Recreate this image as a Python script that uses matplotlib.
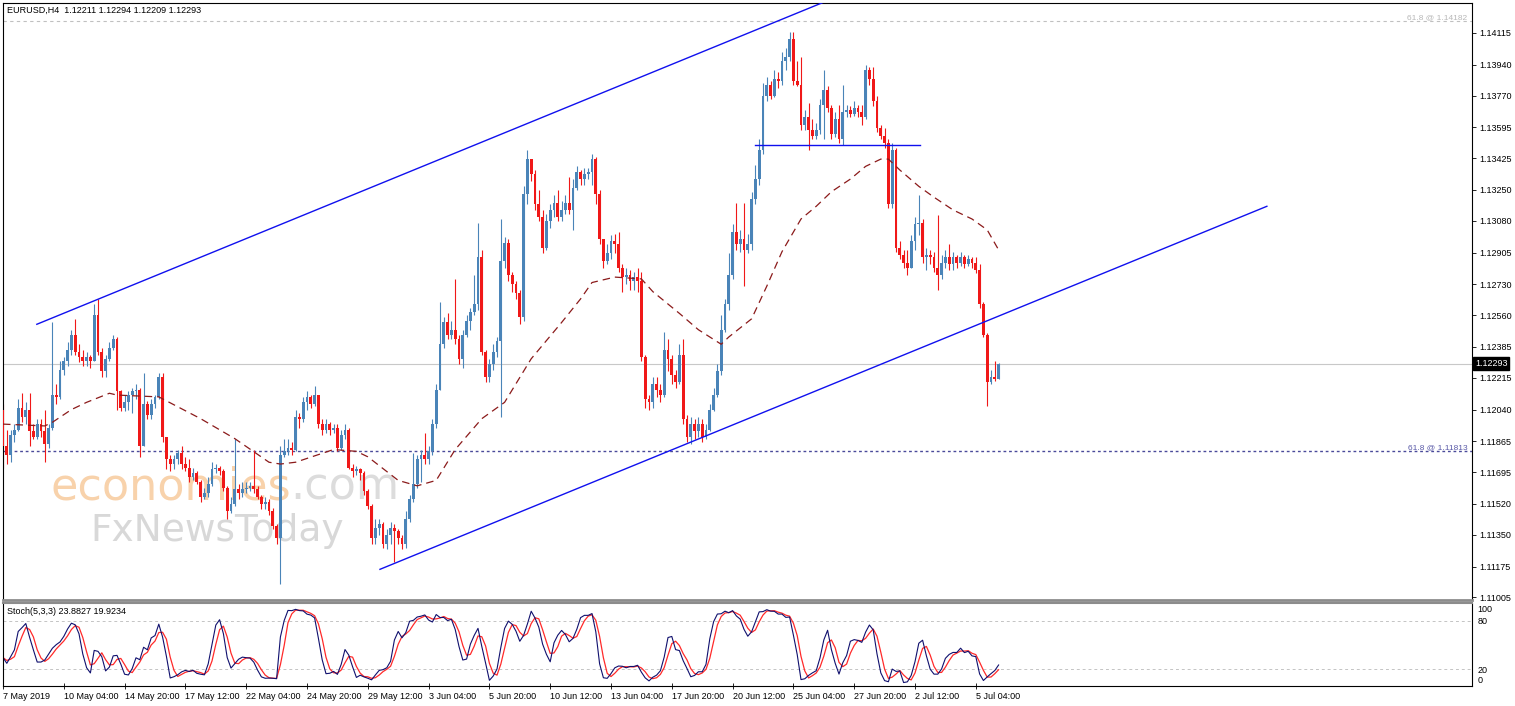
import numpy as np
import pandas as pd
import matplotlib
matplotlib.use('agg')
import matplotlib.pyplot as plt
import matplotlib.transforms as mtrans

# EURUSD H4, values (open of each bar = previous close)
first_open = 1.1204
closes = [
    1.1184, 1.1179, 1.1190, 1.1193, 1.1205, 1.1200, 1.1204, 1.1192, 1.1189, 1.1196,
    1.1192, 1.1185, 1.1194, 1.1212, 1.1211, 1.1226, 1.1231, 1.1237, 1.1245, 1.1236,
    1.1233, 1.1231, 1.1233, 1.1231, 1.1256, 1.1236, 1.1225, 1.1232, 1.1238, 1.1243,
    1.1214, 1.1205, 1.1208, 1.1212, 1.1214, 1.1215, 1.1184, 1.1207, 1.1201, 1.1207,
    1.1211, 1.1222, 1.1189, 1.1177, 1.1174, 1.1177, 1.1180, 1.1174, 1.1172, 1.1167,
    1.1169, 1.1164, 1.1156, 1.1158, 1.1163, 1.1171, 1.1172, 1.1170, 1.1161, 1.1148,
    1.1152, 1.1160, 1.1158, 1.1160, 1.1161, 1.1162, 1.1160, 1.1156, 1.1152, 1.1153,
    1.1148, 1.1140, 1.1133, 1.1179, 1.1181, 1.1183, 1.1182, 1.1200, 1.1199, 1.1208,
    1.1211, 1.1207, 1.1212, 1.1196, 1.1193, 1.1196, 1.1193, 1.1194, 1.1183, 1.1190,
    1.1193, 1.1172, 1.1170, 1.1171, 1.1169, 1.1159, 1.1151, 1.1133, 1.1139, 1.1141,
    1.1130, 1.1135, 1.1139, 1.1137, 1.1133, 1.1130, 1.1144, 1.1155, 1.1163, 1.1177,
    1.1179, 1.1177, 1.1181, 1.1196, 1.1215, 1.1240, 1.1252, 1.1245, 1.1248, 1.1243,
    1.1232, 1.1245, 1.1253, 1.1258, 1.1262, 1.1288, 1.1236, 1.1222, 1.1229, 1.1236,
    1.1242, 1.1286, 1.1296, 1.1278, 1.1273, 1.1268, 1.1255, 1.1323, 1.1342, 1.1334,
    1.1317, 1.1310, 1.1293, 1.1308, 1.1314, 1.1318, 1.1310, 1.1314, 1.1318, 1.1314,
    1.1326, 1.1335, 1.1331, 1.1334, 1.1335, 1.1342, 1.1323, 1.1298, 1.1286, 1.1290,
    1.1297, 1.1295, 1.1282, 1.1277, 1.1278, 1.1275, 1.1277, 1.1275, 1.1233, 1.1210,
    1.1208, 1.1218, 1.1215, 1.1212, 1.1237, 1.1232, 1.1223, 1.1219, 1.1234, 1.1199,
    1.1189, 1.1196, 1.1192, 1.1196, 1.1189, 1.1193, 1.1204, 1.1212, 1.1225, 1.1248,
    1.1262, 1.1278, 1.1302, 1.1295, 1.1298, 1.1292, 1.1295, 1.1320, 1.1331, 1.1347,
    1.1377, 1.1383, 1.1377, 1.1386, 1.1385, 1.1396, 1.1398, 1.1408, 1.1385, 1.1383,
    1.1361, 1.1365, 1.1358, 1.1355, 1.1358, 1.1372, 1.1380, 1.1370, 1.1356, 1.1364,
    1.1353, 1.1368, 1.1369, 1.1367, 1.1370, 1.1368, 1.1365, 1.1391, 1.1386, 1.1374,
    1.1359, 1.1355, 1.1351, 1.1317, 1.1347, 1.1293, 1.1289, 1.1285, 1.1282, 1.1297,
    1.1306, 1.1307, 1.1288, 1.1289, 1.1288, 1.1282, 1.1278, 1.1285, 1.1288, 1.1284,
    1.1288, 1.1285, 1.1288, 1.1284, 1.1287, 1.1285, 1.1281, 1.1262, 1.1245, 1.1219,
    1.1222, 1.12211, 1.12293,
]
highs = [
    1.1207, 1.1193, 1.1193, 1.1196, 1.1210, 1.1213, 1.1208, 1.1213, 1.1196, 1.1199,
    1.1199, 1.1204, 1.1196, 1.1252, 1.1218, 1.1231, 1.1233, 1.1241, 1.1248, 1.1254,
    1.1240, 1.1237, 1.1236, 1.1234, 1.1262, 1.1265, 1.1238, 1.1234, 1.1241, 1.1245,
    1.1244, 1.1215, 1.1212, 1.1214, 1.1216, 1.1218, 1.1216, 1.1224, 1.1209, 1.1210,
    1.1212, 1.1224, 1.1224, 1.1189, 1.1179, 1.1179, 1.1182, 1.1184, 1.1178, 1.1177,
    1.1172, 1.1170, 1.1165, 1.1161, 1.1167, 1.1175, 1.1174, 1.1173, 1.1171, 1.1162,
    1.1156, 1.1188, 1.1163, 1.1164, 1.1164, 1.1164, 1.1182, 1.1162, 1.1157, 1.1156,
    1.1155, 1.1150, 1.1141, 1.1184, 1.1188, 1.1188, 1.1186, 1.1204, 1.1202, 1.1211,
    1.1214, 1.1212, 1.1217, 1.1212, 1.1199, 1.1199, 1.1197, 1.1196, 1.1196, 1.1193,
    1.1196, 1.1194, 1.1174, 1.1173, 1.1172, 1.1170, 1.1160, 1.1152, 1.1144, 1.1144,
    1.1142, 1.1138, 1.1142, 1.1141, 1.1138, 1.1135, 1.1148, 1.1157, 1.1180, 1.1179,
    1.1182, 1.1191, 1.1184, 1.1199, 1.1218, 1.1263, 1.1255, 1.1257, 1.1253, 1.1276,
    1.1245, 1.1248, 1.1256, 1.1260, 1.1278, 1.1307, 1.1292, 1.1237, 1.1232, 1.1240,
    1.1244, 1.1309, 1.1299, 1.1298, 1.1280, 1.1275, 1.1270, 1.1327, 1.1347, 1.1342,
    1.1336, 1.1325, 1.1314, 1.1312, 1.1317, 1.1322, 1.1325, 1.1319, 1.1322, 1.1332,
    1.1331, 1.1338, 1.1336, 1.1337, 1.1337, 1.1345, 1.1343, 1.1325, 1.1298, 1.1295,
    1.1300, 1.1301, 1.1302, 1.1284, 1.1282, 1.1281, 1.1280, 1.1282, 1.1280, 1.1234,
    1.1212, 1.1222, 1.1222, 1.1218, 1.1247, 1.1243, 1.1234, 1.1226, 1.1240, 1.1243,
    1.1201, 1.1200, 1.1199, 1.1200, 1.1199, 1.1196, 1.1207, 1.1216, 1.1229, 1.1256,
    1.1265, 1.1290, 1.1306, 1.1318, 1.1303, 1.1318, 1.1301, 1.1324, 1.1339, 1.1353,
    1.1384, 1.1387, 1.1385, 1.1391, 1.1390, 1.1401, 1.1403, 1.1412, 1.1412, 1.1396,
    1.1398, 1.1369, 1.1373, 1.1364, 1.1362, 1.1375, 1.1391, 1.1382, 1.1372, 1.1368,
    1.1372, 1.1383, 1.1372, 1.1371, 1.1374, 1.1372, 1.1372, 1.1394, 1.1393, 1.1393,
    1.1377, 1.1361, 1.1359, 1.1353, 1.1351, 1.1348, 1.1297, 1.1292, 1.1292, 1.1300,
    1.1310, 1.1322, 1.1309, 1.1293, 1.1292, 1.1291, 1.1311, 1.1289, 1.1292, 1.1295,
    1.1291, 1.1289, 1.1291, 1.1289, 1.1289, 1.1288, 1.1288, 1.1284, 1.1263, 1.1246,
    1.1226, 1.1231, 1.12294,
]
lows = [
    1.1172, 1.1174, 1.1175, 1.1186, 1.1192, 1.1197, 1.1196, 1.1184, 1.1188, 1.1188,
    1.1189, 1.1175, 1.1183, 1.1193, 1.1207, 1.1210, 1.1223, 1.1228, 1.1234, 1.1234,
    1.1230, 1.1228, 1.1228, 1.1227, 1.1231, 1.1234, 1.1222, 1.1222, 1.1231, 1.1237,
    1.1204, 1.1203, 1.1203, 1.1204, 1.1202, 1.1210, 1.1178, 1.1184, 1.1199, 1.1199,
    1.1205, 1.1210, 1.1186, 1.1171, 1.1170, 1.1171, 1.1174, 1.1171, 1.1170, 1.1164,
    1.1165, 1.1163, 1.1153, 1.1155, 1.1156, 1.1162, 1.1169, 1.1168, 1.1159, 1.1144,
    1.1147, 1.1151, 1.1155, 1.1156, 1.1158, 1.1159, 1.1158, 1.1155, 1.1149, 1.1149,
    1.1146, 1.1138, 1.1130, 1.1108, 1.1178, 1.1179, 1.1179, 1.1181, 1.1194, 1.1197,
    1.1204, 1.1205, 1.1206, 1.1194, 1.1190, 1.1191, 1.1190, 1.1191, 1.1181, 1.1182,
    1.1188, 1.1171, 1.1167, 1.1168, 1.1165, 1.1157, 1.1149, 1.1130, 1.1130, 1.1135,
    1.1128, 1.1127, 1.1130, 1.1120, 1.1130, 1.1127, 1.1128, 1.1142, 1.1153, 1.1161,
    1.1164, 1.1174, 1.1174, 1.1179, 1.1194, 1.1215, 1.1238, 1.1243, 1.1243, 1.1240,
    1.1229, 1.1227, 1.1244, 1.1248, 1.1256, 1.1259, 1.1234, 1.1219, 1.1219, 1.1226,
    1.1233, 1.1200, 1.1282, 1.1275, 1.1269, 1.1265, 1.1251, 1.1253, 1.1317, 1.1330,
    1.1314, 1.1308, 1.1290, 1.1292, 1.1304, 1.1310, 1.1308, 1.1308, 1.1312, 1.1312,
    1.1303, 1.1325, 1.1328, 1.1328, 1.1331, 1.1328, 1.1317, 1.1295, 1.1282, 1.1284,
    1.1287, 1.1290, 1.1280, 1.1269, 1.1273, 1.1270, 1.1270, 1.1269, 1.1231, 1.1205,
    1.1204, 1.1205, 1.1211, 1.1208, 1.1211, 1.1225, 1.1218, 1.1216, 1.1218, 1.1196,
    1.1186, 1.1185, 1.1188, 1.1189, 1.1186, 1.1188, 1.1192, 1.1203, 1.1211, 1.1223,
    1.1247, 1.1259, 1.1276, 1.1292, 1.1291, 1.1272, 1.1290, 1.1292, 1.1317, 1.1328,
    1.1345, 1.1374, 1.1375, 1.1376, 1.1381, 1.1383, 1.1391, 1.1396, 1.1383, 1.1382,
    1.1358, 1.1358, 1.1347, 1.1353, 1.1353, 1.1356, 1.1353, 1.1368, 1.1353, 1.1354,
    1.1351, 1.1350, 1.1365, 1.1365, 1.1366, 1.1365, 1.1361, 1.1364, 1.1383, 1.1371,
    1.1357, 1.1353, 1.1348, 1.1315, 1.1315, 1.1291, 1.1287, 1.1282, 1.1278, 1.1282,
    1.1292, 1.1300, 1.1285, 1.1281, 1.1284, 1.1280, 1.1270, 1.1276, 1.1282, 1.1281,
    1.1281, 1.1282, 1.1283, 1.1282, 1.1283, 1.1282, 1.1279, 1.1260, 1.1244, 1.1206,
    1.1218, 1.1220, 1.12209,
]

# moving average (dashed) read at some bars
ma_bars = [0, 11, 13, 18, 22, 28, 30, 41, 52, 61, 70, 73, 77, 87, 93, 96, 104, 109, 114, 119,
           126, 132, 139, 147, 152, 155, 161, 168, 171, 178, 183, 189, 191, 197, 201, 205, 210,
           214, 218, 223, 227, 231, 233, 236, 241, 245, 250, 255, 259, 262]
ma_vals = [1.1196, 1.1195, 1.1197, 1.1204, 1.1208, 1.1213, 1.1212, 1.1211, 1.1199, 1.1188,
           1.1175, 1.1174, 1.1175, 1.1182, 1.1181, 1.1178, 1.1165, 1.1162, 1.1165, 1.1182,
           1.1199, 1.1208, 1.1232, 1.1252, 1.1265, 1.1274, 1.1277, 1.1276, 1.1269, 1.1257,
           1.1248, 1.1240, 1.1244, 1.1254, 1.1272, 1.1291, 1.1309, 1.1316, 1.1324, 1.1331,
           1.1338, 1.1342, 1.1342, 1.1336, 1.1327, 1.1321, 1.1314, 1.1309, 1.1303, 1.1292]

# drawn objects (bar index, price)
upper_channel = [(8.9, 1.1251), (220, 1.14319)]
lower_channel = [(99.2, 1.1116), (332.6, 1.1316)]
neckline = [(197.9, 1.1350), (241.3, 1.1350)]
fib_low = 1.11813
fib_high = 1.14182
last_price = 1.12293

price_ticks = [1.14115, 1.13940, 1.13770, 1.13595, 1.13425, 1.13250, 1.13080, 1.12905,
               1.12730, 1.12560, 1.12385, 1.12215, 1.12040, 1.11865, 1.11695, 1.11520,
               1.11350, 1.11175, 1.11005]
date_labels = ['7 May 2019', '10 May 04:00', '14 May 20:00', '17 May 12:00', '22 May 04:00',
               '24 May 20:00', '29 May 12:00', '3 Jun 04:00', '5 Jun 20:00', '10 Jun 12:00',
               '13 Jun 04:00', '17 Jun 20:00', '20 Jun 12:00', '25 Jun 04:00', '27 Jun 20:00',
               '2 Jul 12:00', '5 Jul 04:00']
date_bars = [16 * k for k in range(len(date_labels))]

BULL = '#4a84b8'
BEAR = '#f01818'
FS = 6.5
plt.rcParams['font.family'] = ['Liberation Sans', 'DejaVu Sans']

W, H = 1515, 706
def box(l, t, r, b):
    return [l / W, 1 - b / H, (r - l) / W, (b - t) / H]

fig = plt.figure(figsize=(W / 100, H / 100), dpi=100)
ax = fig.add_axes(box(3, 3, 1472, 600))
ax2 = fig.add_axes(box(3, 603, 1472, 686))

o = np.array([first_open] + closes[:-1])
c = np.array(closes)
hi = np.array(highs)
lo = np.array(lows)
x = np.arange(len(c))
cols = np.where(c >= o, BULL, BEAR)

xmax = 1469 / 3.8
ax.set_xlim(0, xmax)
ax.set_ylim(1.10991, 1.14280)

# watermark
wm = ax.text(0.032, 0.153, 'economies', transform=ax.transAxes, fontsize=32,
             color='#f8d2ab', zorder=0.5, va='bottom', family='DejaVu Sans')
ax.annotate('.com', xy=(1, 0), xycoords=wm, fontsize=32, color='#dcdcdc',
            zorder=0.5, va='bottom', ha='left', family='DejaVu Sans')
ax.text(0.0592, 0.0988, 'FxNewsToday', transform=ax.transAxes, fontsize=27,
        color='#d8d8d8', zorder=0.5, va='baseline', family='DejaVu Sans')

# reference lines
yblend = mtrans.blended_transform_factory(ax.transAxes, ax.transData)
ax.axhline(last_price, color='#c8c8c8', lw=0.8, zorder=1)
ax.axhline(fib_high, color='#c0c0c0', lw=0.8, ls=(0, (3, 3)), zorder=1)
ax.axhline(fib_low, color='#4a4a9a', lw=1.0, ls=(0, (2, 2)), zorder=1)
ax.text(0.997, fib_high, '61.8 @ 1.14182', transform=yblend,
        ha='right', va='bottom', fontsize=6, color='#b8b8b8')
ax.text(0.997, fib_low, '61.8 @ 1.11813', transform=yblend,
        ha='right', va='bottom', fontsize=6, color='#5a5aa8')

# candles
ax.vlines(x, lo, hi, colors=cols, lw=0.8, zorder=2)
body = np.maximum(np.abs(c - o), 0.00003)
ax.bar(x, body, bottom=np.minimum(o, c), width=0.72, color=cols, linewidth=0, zorder=3)

# moving average
ax.plot(ma_bars, ma_vals, color='#8b1a1a', lw=0.9, ls=(0, (6, 4)), zorder=4)

# trend lines
for line in (upper_channel, lower_channel, neckline):
    ax.plot([p[0] for p in line], [p[1] for p in line], color='#1010ee', lw=1.0, zorder=5)

ax.set_xticks([])
ax.yaxis.tick_right()
ax.set_yticks(price_ticks)
ax.set_yticklabels(['%.5f' % v for v in price_ticks])
ax.tick_params(axis='y', direction='out', length=3, width=0.6, labelsize=FS, pad=2)
for s in ('top', 'left', 'right'):
    ax.spines[s].set_color('black')
    ax.spines[s].set_linewidth(0.8)
ax.spines['bottom'].set_color('#8c8c8c')
ax.spines['bottom'].set_linewidth(2.0)

ax.text(1.002, last_price, '%.5f' % last_price, transform=yblend,
        ha='left', va='center', fontsize=FS, color='white', zorder=10, clip_on=False,
        bbox=dict(boxstyle='square,pad=0.2', fc='black', ec='black'))

# stochastic 5,3,3
df = pd.DataFrame({'h': hi, 'l': lo, 'c': c})
ll = df['l'].rolling(5, min_periods=1).min()
hh = df['h'].rolling(5, min_periods=1).max()
k = 100 * (df['c'] - ll).rolling(3, min_periods=1).sum() / (hh - ll).rolling(3, min_periods=1).sum()
d = k.rolling(3, min_periods=1).mean()

ax2.set_xlim(0, xmax)
ax2.set_ylim(-1, 102)
for lvl in (20, 80):
    ax2.axhline(lvl, color='#c4c4c4', lw=0.7, ls=(0, (3, 3)))
ax2.plot(x, d, color='#ff2a2a', lw=0.9)
ax2.plot(x, k, color='#10106e', lw=0.8)

ax2.yaxis.tick_right()
ax2.set_yticks([0, 20, 80, 100])
ax2.set_yticklabels(['0', '20', '80', '100'])
ax2.tick_params(axis='y', length=0, labelsize=FS, pad=4)
ylabs = ax2.get_yticklabels()
ylabs[0].set_va('bottom')
ylabs[3].set_va('top')
ax2.set_xticks(date_bars)
ax2.set_xticklabels(date_labels, ha='left')
ax2.tick_params(axis='x', direction='inout', length=4, width=0.6, labelsize=FS, pad=2)
for s in ('bottom', 'left', 'right'):
    ax2.spines[s].set_color('black')
    ax2.spines[s].set_linewidth(0.8)
ax2.spines['top'].set_color('#8c8c8c')
ax2.spines['top'].set_linewidth(1.5)

fig.text(7 / W, 1 - 10 / H, 'EURUSD,H4  1.12211 1.12294 1.12209 1.12293', fontsize=FS, va='center')
fig.text(7 / W, 1 - 611 / H, 'Stoch(5,3,3) 23.8827 19.9234', fontsize=FS, va='center')

fig.savefig('out.png', dpi=100, facecolor='white')
